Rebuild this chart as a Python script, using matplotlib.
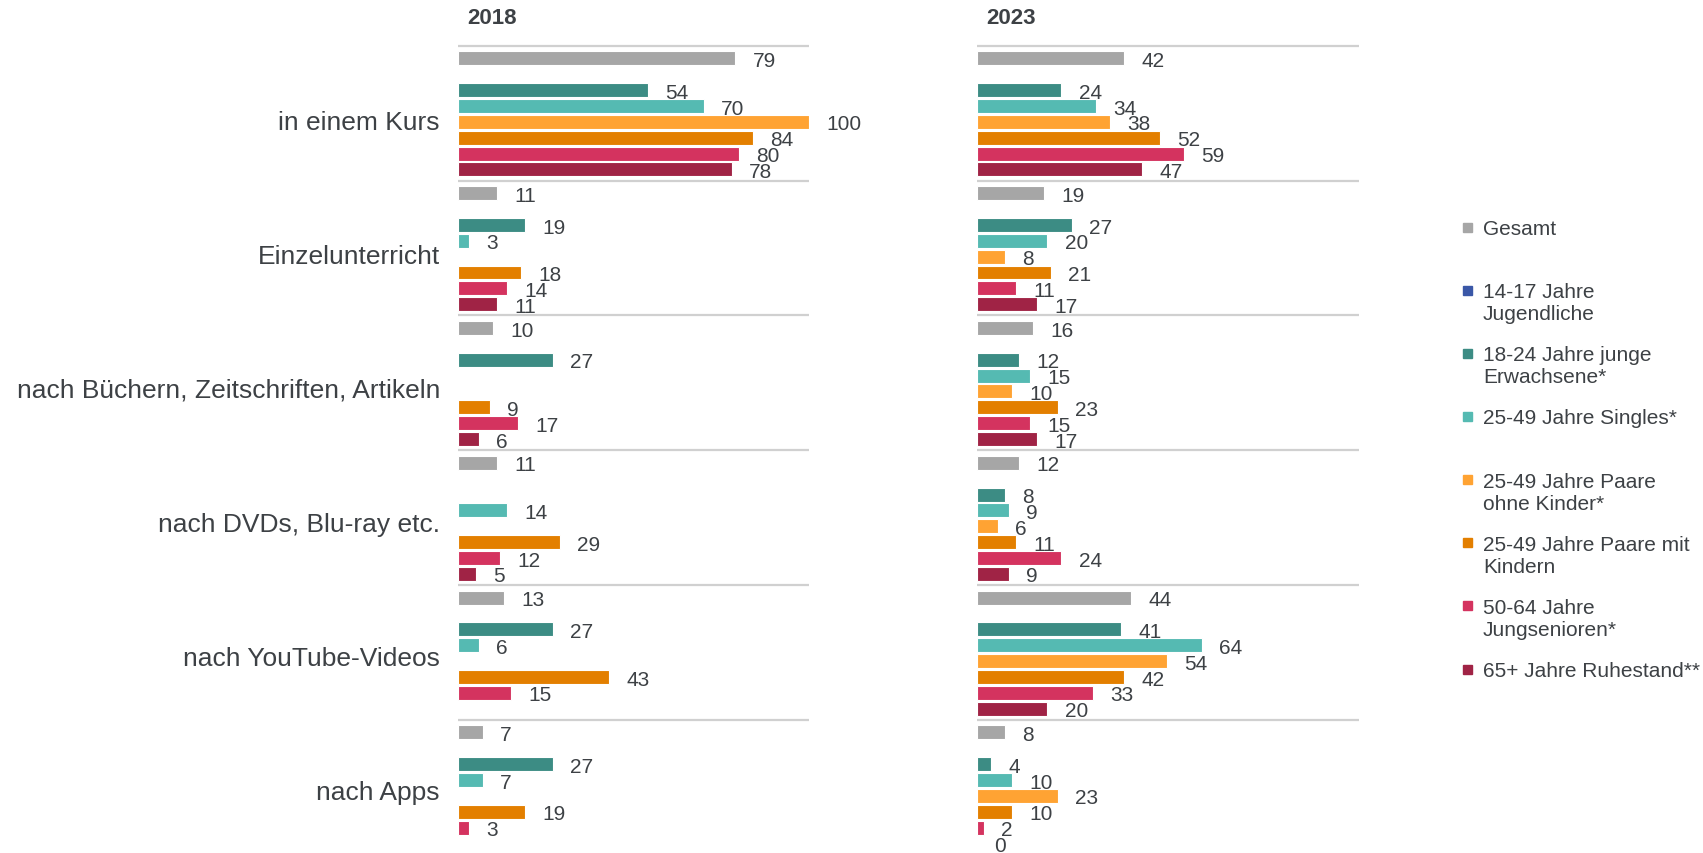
import matplotlib
matplotlib.use("Agg")
import matplotlib.pyplot as plt
from matplotlib.patches import Rectangle

plt.rcParams['font.family'] = ['Liberation Sans', 'DejaVu Sans']

categories = ["in einem Kurs", "Einzelunterricht", "nach Büchern, Zeitschriften, Artikeln",
              "nach DVDs, Blu-ray etc.", "nach YouTube-Videos", "nach Apps"]
series = ["Gesamt", "14-17 Jahre\nJugendliche", "18-24 Jahre junge\nErwachsene*",
          "25-49 Jahre Singles*", "25-49 Jahre Paare\nohne Kinder*",
          "25-49 Jahre Paare mit\nKindern", "50-64 Jahre\nJungsenioren*", "65+ Jahre Ruhestand**"]
colors = ["#A6A6A6", "#3A57A7", "#3C8C84", "#55BAB2", "#FFA333", "#E37F00", "#D4335F", "#A02345"]
years = ["2018", "2023"]

values_2018 = [
    [79, None, 54, 70, 100, 84, 80, 78],
    [11, None, 19, 3, None, 18, 14, 11],
    [10, None, 27, None, None, 9, 17, 6],
    [11, None, None, 14, None, 29, 12, 5],
    [13, None, 27, 6, None, 43, 15, None],
    [7, None, 27, 7, None, 19, 3, None],
]
values_2023 = [
    [42, None, 24, 34, 38, 52, 59, 47],
    [19, None, 27, 20, 8, 21, 11, 17],
    [16, None, 12, 15, 10, 23, 15, 17],
    [12, None, 8, 9, 6, 11, 24, 9],
    [44, None, 41, 64, 54, 42, 33, 20],
    [8, None, 4, 10, 23, 10, 2, 0],
]

W, H = 1703, 854
fig = plt.figure(figsize=(W / 100, H / 100), dpi=100)
txt = "#3d4145"

GROUP = 8.5
top_px, bot_px = 40, 854
slot_px = 15.86
line_px = 46.7
y_top = -0.8 - (line_px - top_px) / slot_px
y_bot = -0.8 + (bot_px - line_px) / slot_px

panels = [(458, 351, 100, values_2018), (977, 382, 382 / 3.51, values_2023)]
axes = []
for (left, width, xmax, vals) in panels:
    ax = fig.add_axes([left / W, 1 - bot_px / H, width / W, (bot_px - top_px) / H])
    ax.set_xlim(0, xmax)
    ax.set_ylim(y_bot, y_top)
    for spine in ax.spines.values():
        spine.set_visible(False)
    ax.set_xticks([])
    for g, row in enumerate(vals):
        base = g * GROUP
        ax.axhline(base - 0.8, color="#d0d0d0", lw=1.6, zorder=1)
        for s, v in enumerate(row):
            if v is None:
                continue
            y = base + s
            ax.barh(y, v, height=0.88, color=colors[s], edgecolor="white", lw=0.8, zorder=2)
            ax.annotate(str(v), xy=(v, y), xytext=(12.5, -1.5), textcoords="offset points",
                        va="center", ha="left", fontsize=15, color=txt, annotation_clip=False)
    axes.append(ax)

ax1, ax2 = axes
ax1.set_yticks([3.85 + g * 8.448 for g in range(len(categories))])
ax1.set_yticklabels(categories, fontsize=19, color=txt)
ax1.tick_params(axis="y", length=0, pad=13)
ax2.set_yticks([])

fig.text(467 / W, 1 - 19 / H, years[0], fontsize=16, fontweight="bold", color=txt, va="center")
fig.text(986 / W, 1 - 19 / H, years[1], fontsize=16, fontweight="bold", color=txt, va="center")

for k, (lab, col) in enumerate(zip(series, colors)):
    cy = 228 + 63.15 * k
    fig.patches.append(Rectangle((1463 / W, 1 - (cy + 4.5) / H), 9 / W, 9 / H,
                                 transform=fig.transFigure, color=col))
    fig.text(1483 / W, 1 - (cy - 8) / H, lab, fontsize=15, color=txt, va="top",
             ha="left", linespacing=1.2)

fig.savefig("out.png", dpi=100)
